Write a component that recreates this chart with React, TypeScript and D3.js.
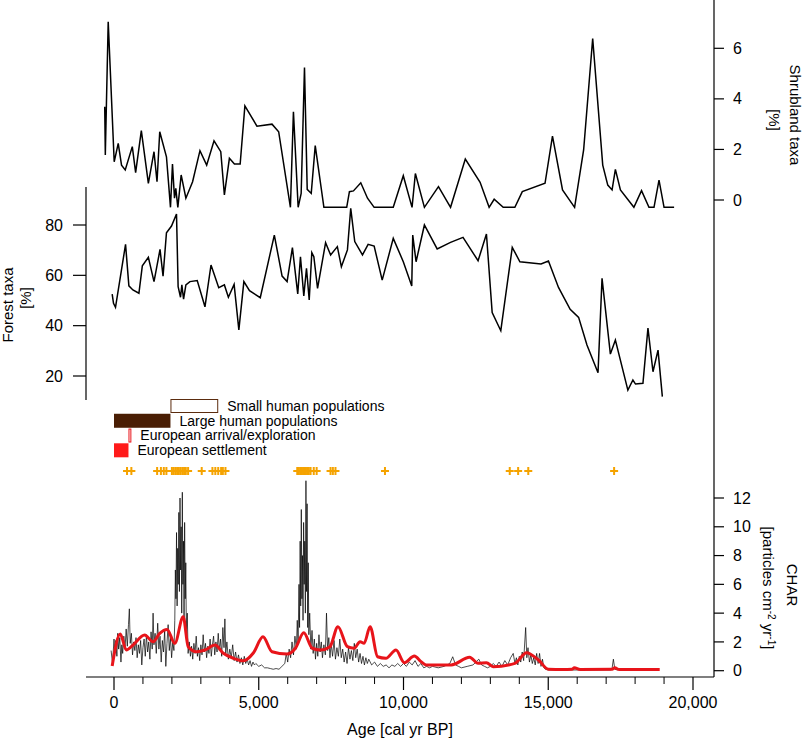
import React from 'react';
import * as d3 from 'd3';

// Shrubland taxa [%]
const shrubAge = [-320, -300, -200, 7, 146, 260, 388, 632, 747, 944, 1187, 1382, 1486, 1580, 1812, 1951, 2020, 2090, 2135, 2205, 2320, 2483, 2715, 2969, 3201, 3455, 3688, 3813, 3986, 4160, 4358, 4521, 4938, 5458, 5688, 6094, 6198, 6361, 6465, 6580, 6674, 6813, 6951, 7250, 8038, 8132, 8271, 8524, 8757, 8986, 9646, 9993, 10295, 10410, 10722, 11208, 11625, 12135, 12646, 12958, 13132, 13444, 13847, 14104, 14889, 15146, 15493, 15910, 16222, 16535, 16882, 17056, 17205, 17319, 17493, 17958, 18222, 18479, 18653, 18826, 19000, 19347];
const shrubVal = [3.69, 1.78, 7.05, 1.51, 2.24, 1.38, 1.19, 2.11, 1.08, 2.74, 0.66, 1.91, 0.72, 2.7, 1.71, -0.29, 1.42, 0.07, 0.46, -0.29, 0.99, 0.07, 0.72, 1.95, 1.38, 2.34, 1.91, 0.2, 1.65, 1.42, 1.42, 3.72, 2.92, 3.0, 2.7, -0.29, 3.49, -0.29, 0.26, 5.24, 0.42, 0.26, 2.15, -0.29, -0.29, 0.33, 0.36, 0.68, 0.07, -0.29, -0.29, 0.96, -0.29, 1.05, -0.29, 0.53, -0.29, 1.62, 0.7, -0.29, 0.03, -0.29, -0.29, 0.33, 0.66, 2.53, 0.4, -0.29, 1.98, 6.39, 1.38, 0.59, 0.4, 1.21, 0.4, -0.29, 0.37, -0.29, -0.29, 0.79, -0.29, -0.29];

// Forest taxa [%]
const forestAge = [-63, -17, 52, 399, 514, 653, 861, 979, 1187, 1382, 1590, 1694, 1812, 1986, 2159, 2215, 2298, 2344, 2403, 2483, 2622, 2875, 3142, 3351, 3618, 3813, 3951, 4149, 4313, 4486, 4681, 5052, 5538, 5806, 5979, 6163, 6347, 6441, 6556, 6649, 6743, 6833, 6903, 7031, 7309, 7483, 7715, 7854, 8063, 8177, 8316, 8583, 8778, 8986, 9264, 9646, 9993, 10285, 10319, 10434, 10722, 11163, 11625, 12056, 12576, 12865, 13063, 13361, 13757, 14021, 14750, 15007, 15354, 15757, 16049, 16337, 16719, 16858, 17146, 17319, 17750, 17924, 18014, 18271, 18444, 18618, 18792, 18941];
const forestVal = [52.5, 48.9, 47.3, 72.3, 55.8, 54.2, 52.9, 63.8, 67.2, 57.5, 70.3, 59.7, 76.9, 79.6, 84.4, 55.5, 51.3, 56.2, 50.5, 56.2, 57.5, 57.9, 47.5, 64.1, 55.1, 56.2, 51.3, 56.4, 38.3, 57.5, 53.9, 51.1, 76.0, 59.7, 57.5, 71.0, 52.6, 67.4, 51.8, 62.8, 50.2, 69.0, 67.4, 54.8, 73.0, 68.1, 71.4, 63.4, 70.1, 86.6, 73.4, 68.1, 72.3, 71.6, 58.1, 74.7, 65.4, 55.8, 76.0, 65.4, 80.0, 70.5, 73.1, 75.1, 65.8, 76.4, 45.2, 38.0, 71.1, 65.4, 64.5, 65.7, 55.2, 46.5, 43.3, 32.3, 21.3, 58.8, 28.7, 34.3, 14.4, 18.4, 16.8, 17.1, 39.0, 21.7, 30.3, 11.8];

// Human history bars
const humanLabels = ['Small human populations', 'Large human populations', 'European arrival/exploration', 'European settlement'];
const humanStart = [1950, 0, 500, 0];
const humanEnd = [3600, 1950, 600, 500];
const humanFilled = [false, true, false, true];
const humanColor = ['#5b2c0e', '#4a1e04', '#e8141a', '#ff1a1a'];

// Radiocarbon / dating points
const dateAges = [450, 600, 1490, 1620, 1720, 1810, 2000, 2060, 2120, 2180, 2240, 2300, 2360, 2420, 2480, 2560, 3030, 3400, 3500, 3600, 3700, 3760, 3850, 6330, 6380, 6430, 6480, 6530, 6580, 6630, 6680, 6730, 6790, 6900, 7000, 7480, 7560, 7650, 9360, 13670, 13960, 14310, 17275];

// CHAR [particles cm-2 yr-1]
const charAge = [-100, -50, 0, 30, 60, 100, 130, 160, 200, 240, 270, 300, 340, 380, 420, 460, 500, 530, 560, 600, 640, 680, 720, 760, 800, 840, 880, 920, 960, 1000, 1040, 1080, 1120, 1160, 1200, 1240, 1280, 1320, 1350, 1380, 1420, 1460, 1510, 1550, 1590, 1630, 1670, 1710, 1750, 1790, 1830, 1870, 1910, 1950, 1990, 2030, 2070, 2100, 2120, 2140, 2160, 2180, 2200, 2220, 2240, 2260, 2280, 2300, 2320, 2340, 2360, 2380, 2400, 2420, 2440, 2460, 2480, 2500, 2530, 2560, 2600, 2640, 2680, 2720, 2760, 2800, 2840, 2880, 2920, 2960, 3000, 3040, 3080, 3120, 3160, 3200, 3240, 3280, 3320, 3360, 3400, 3440, 3480, 3520, 3560, 3600, 3640, 3680, 3720, 3760, 3800, 3830, 3860, 3900, 3950, 4000, 4050, 4100, 4150, 4200, 4250, 4300, 4350, 4400, 4450, 4500, 4550, 4600, 4650, 4700, 4750, 4800, 4850, 4900, 5000, 5100, 5200, 5300, 5400, 5500, 5600, 5700, 5800, 5900, 5950, 6000, 6050, 6100, 6150, 6200, 6250, 6300, 6330, 6360, 6390, 6410, 6430, 6450, 6470, 6490, 6510, 6530, 6550, 6570, 6590, 6610, 6630, 6650, 6670, 6690, 6710, 6730, 6760, 6800, 6840, 6880, 6920, 6960, 7000, 7040, 7080, 7120, 7160, 7200, 7250, 7300, 7340, 7380, 7420, 7460, 7500, 7550, 7600, 7650, 7700, 7750, 7800, 7850, 7900, 7950, 8000, 8050, 8100, 8150, 8200, 8250, 8300, 8350, 8400, 8450, 8500, 8550, 8600, 8650, 8700, 8750, 8800, 8900, 9000, 9100, 9200, 9300, 9400, 9500, 9600, 9700, 9800, 9900, 10000, 10100, 10200, 10300, 10400, 10500, 10600, 10700, 10800, 10900, 11000, 11200, 11400, 11600, 11700, 11800, 11900, 12000, 12200, 12400, 12600, 12700, 12800, 12900, 13000, 13100, 13200, 13300, 13400, 13500, 13600, 13700, 13790, 13850, 13900, 13950, 14000, 14050, 14100, 14150, 14220, 14260, 14300, 14350, 14400, 14450, 14500, 14550, 14600, 14650, 14700, 14750, 14800, 14850, 14900, 15000, 15500, 16000, 16500, 17000, 17150, 17200, 17250, 17300, 17400];
const charVal = [1.4, 0.5, 2.2, 1.3, 2.1, 1.0, 2.6, 1.5, 2.3, 0.6, 1.8, 1.2, 2.4, 1.5, 2.9, 1.7, 3.2, 4.3, 1.9, 2.6, 1.1, 2.0, 1.4, 2.3, 0.9, 1.8, 1.2, 2.1, 0.4, 1.6, 2.2, 1.0, 2.5, 1.3, 2.0, 0.8, 2.7, 1.5, 4.0, 1.8, 2.6, 1.2, 3.3, 1.5, 2.4, 0.6, 2.1, 1.3, 2.8, 0.3, 1.9, 3.2, 1.4, 2.3, 0.9, 2.0, 1.4, 3.5, 7.0, 5.0, 9.6, 4.5, 8.5, 6.0, 11.0, 5.5, 12.0, 7.0, 10.0, 4.0, 12.4, 6.0, 9.0, 3.5, 10.3, 5.0, 7.5, 2.5, 4.0, 1.2, 2.0, 1.0, 1.7, 0.8, 1.9, 1.2, 2.4, 1.0, 1.6, 0.7, 1.8, 1.1, 2.5, 1.3, 1.9, 0.9, 1.7, 1.2, 2.2, 1.0, 1.8, 2.4, 1.1, 2.0, 1.3, 2.6, 1.4, 2.2, 1.0, 3.0, 1.6, 3.6, 1.2, 2.0, 0.8, 1.5, 0.9, 1.8, 0.7, 1.3, 0.6, 1.1, 0.5, 0.9, 0.4, 1.0, 0.5, 0.8, 0.4, 0.7, 0.3, 0.6, 0.4, 0.5, 0.3, 0.4, 0.2, 0.2, 0.15, 0.1, 0.15, 0.1, 0.3, 0.5, 1.2, 0.6, 1.5, 0.9, 2.0, 1.1, 2.4, 1.5, 3.5, 2.0, 6.0, 3.0, 9.0, 4.5, 11.2, 5.0, 8.0, 3.5, 10.3, 6.0, 9.0, 4.0, 13.2, 5.5, 11.6, 3.0, 7.5, 2.5, 4.0, 1.5, 2.8, 1.2, 2.2, 0.8, 1.9, 1.0, 2.5, 1.3, 2.0, 0.9, 1.8, 1.1, 4.0, 1.4, 2.3, 0.9, 1.9, 1.0, 2.1, 0.8, 1.6, 1.0, 2.2, 0.9, 1.5, 0.6, 1.3, 0.5, 1.6, 0.8, 1.4, 0.7, 1.9, 0.9, 1.5, 0.6, 1.2, 0.5, 1.0, 0.4, 0.9, 0.5, 0.8, 0.4, 0.6, 0.3, 0.5, 0.3, 0.4, 0.2, 0.4, 0.3, 0.5, 0.3, 0.5, 0.3, 0.6, 0.4, 0.7, 0.3, 0.5, 0.2, 0.3, 0.2, 0.3, 0.2, 0.3, 0.5, 0.97, 0.4, 0.3, 0.2, 0.3, 0.4, 0.8, 0.4, 0.3, 0.2, 0.3, 0.5, 0.3, 0.6, 0.3, 0.7, 0.4, 0.9, 1.2, 0.5, 0.9, 0.4, 1.0, 0.6, 1.3, 0.7, 3.0, 0.9, 1.6, 0.6, 1.1, 0.5, 0.9, 0.4, 1.2, 0.5, 1.2, 0.3, 0.8, 0.2, 0.1, 0.05, 0.05, 0.05, 0.05, 0.05, 0.05, 0.1, 0.8, 0.1, 0.05];

// Smoothed CHAR (background)
const smoothAge = [-63, 215, 424, 653, 1059, 1348, 1580, 1834, 2100, 2390, 2563, 2854, 3142, 3490, 3778, 4125, 4472, 4819, 5146, 5458, 5979, 6267, 6556, 6847, 7135, 7459, 7736, 8063, 8292, 8500, 8639, 8847, 9104, 9392, 9740, 10028, 10375, 10608, 10781, 11649, 12285, 12576, 12865, 13097, 13847, 14253, 14660, 15007, 15500, 15816, 15900, 16100, 17205, 17300, 17450, 18850];
const smoothVal = [0.33, 2.55, 1.44, 1.78, 2.48, 2.01, 2.6, 2.87, 1.9, 3.75, 1.67, 1.32, 1.44, 1.78, 1.21, 0.86, 0.69, 1.25, 2.36, 1.32, 1.16, 1.56, 2.64, 1.56, 1.44, 1.67, 3.06, 1.67, 1.56, 2.01, 1.9, 3.06, 0.97, 0.86, 1.44, 0.56, 1.02, 0.63, 0.4, 0.4, 0.93, 0.51, 0.56, 0.28, 0.51, 1.25, 0.74, 0.1, 0.08, 0.1, 0.2, 0.08, 0.1, 0.2, 0.08, 0.08];

const xTicksMajor = [0, 5000, 10000, 15000, 20000];
const shrubTicks = [0, 2, 4, 6];
const forestTicks = [20, 40, 60, 80];
const charTicks = [0, 2, 4, 6, 8, 10, 12];

const FONT = '"Liberation Sans", Arial, Helvetica, sans-serif';

export default function App() {
  const x = d3.scaleLinear().domain([0, 20000]).range([114, 693]);
  const yS = d3.scaleLinear().domain([0, 6]).range([200, 48.3]);
  const yF = d3.scaleLinear().domain([20, 80]).range([376, 225]);
  const yC = d3.scaleLinear().domain([0, 12]).range([670.7, 498]);
  const rowY = d3.scaleLinear().domain([0, 3]).range([399, 443.3]);

  const shrubLine = d3.line<number>().x((_, i) => x(shrubAge[i])).y((d) => yS(d));
  const forestLine = d3.line<number>().x((_, i) => x(forestAge[i])).y((d) => yF(d));
  const charLine = d3.line<number>().x((_, i) => x(charAge[i])).y((d) => yC(d));
  const smoothLine = d3.line<number>().x((_, i) => x(smoothAge[i])).y((d) => yC(d)).curve(d3.curveMonotoneX);

  const minorTicks = d3.range(0, 20001, 1000).filter((t) => t % 5000 !== 0);
  const axisRight = 714;
  const axisBottom = 677;
  const fmt = d3.format(',');
  const crossY = 471;
  const cs = 4;

  return (
    <svg width={805} height={740} style={{ position: 'absolute', left: 0, top: 0, background: '#fff' }} fontFamily={FONT}>
      <rect x={0} y={0} width={805} height={740} fill="#fff" />
      {/* right vertical axis line */}
      <line x1={axisRight} x2={axisRight} y1={0} y2={axisBottom} stroke="#000" strokeWidth={1.2} />
      {/* shrubland axis */}
      {shrubTicks.map((t) => (
        <g key={'s' + t}>
          <line x1={axisRight} x2={axisRight + 10} y1={yS(t)} y2={yS(t)} stroke="#000" strokeWidth={1.2} />
          <text x={733} y={yS(t)} dy="0.35em" fontSize={16}>{t}</text>
        </g>
      ))}
      <g transform={`translate(795,115) rotate(90)`}>
        <text textAnchor="middle" dy="0.35em" fontSize={15}>Shrubland taxa</text>
      </g>
      <g transform={`translate(774,120) rotate(90)`}>
        <text textAnchor="middle" dy="0.35em" fontSize={15}>[%]</text>
      </g>
      <path d={shrubLine(shrubVal) || ''} fill="none" stroke="#000" strokeWidth={1.5} strokeLinejoin="miter" />

      {/* forest axis */}
      <line x1={86} x2={86} y1={187} y2={400} stroke="#000" strokeWidth={1.2} />
      {forestTicks.map((t) => (
        <g key={'f' + t}>
          <line x1={73} x2={86} y1={yF(t)} y2={yF(t)} stroke="#000" strokeWidth={1.2} />
          <text x={63} y={yF(t)} dy="0.35em" fontSize={16} textAnchor="end">{t}</text>
        </g>
      ))}
      <g transform={`translate(8,305) rotate(-90)`}>
        <text textAnchor="middle" dy="0.35em" fontSize={15}>Forest taxa</text>
      </g>
      <g transform={`translate(26,298) rotate(-90)`}>
        <text textAnchor="middle" dy="0.35em" fontSize={15}>[%]</text>
      </g>
      <path d={forestLine(forestVal) || ''} fill="none" stroke="#000" strokeWidth={1.5} />

      {/* human history bars */}
      {humanLabels.map((lab, i) => {
        const x0 = x(humanStart[i]);
        const x1 = x(humanEnd[i]);
        const y0 = rowY(i);
        const h = 14;
        return (
          <g key={lab}>
            <rect
              x={humanFilled[i] ? x0 : x0 + 0.5}
              y={humanFilled[i] ? y0 : y0 + 0.5}
              width={humanFilled[i] ? x1 - x0 : Math.max(x1 - x0 - 1, 1)}
              height={humanFilled[i] ? h : h - 1}
              fill={humanFilled[i] ? humanColor[i] : '#fff'}
              stroke={humanFilled[i] ? 'none' : humanColor[i]}
              strokeWidth={1}
            />
            <text x={x1 + 9} y={y0 + h / 2} dy="0.35em" fontSize={14}>{lab}</text>
          </g>
        );
      })}

      {/* dating crosses */}
      {dateAges.map((a, i) => (
        <path
          key={'c' + i}
          d={`M${x(a) - cs},${crossY}H${x(a) + cs}M${x(a)},${crossY - cs}V${crossY + cs}`}
          stroke="#f5a300"
          strokeWidth={2}
          fill="none"
        />
      ))}

      {/* CHAR axis */}
      {charTicks.map((t) => (
        <g key={'c' + t}>
          <line x1={axisRight} x2={axisRight + 10} y1={yC(t)} y2={yC(t)} stroke="#000" strokeWidth={1.2} />
          <text x={733} y={yC(t)} dy="0.35em" fontSize={16}>{t}</text>
        </g>
      ))}
      <g transform={`translate(792,585) rotate(90)`}>
        <text textAnchor="middle" dy="0.35em" fontSize={15}>CHAR</text>
      </g>
      <g transform={`translate(768,588) rotate(90)`}>
        <text textAnchor="middle" dy="0.35em" fontSize={15}>
          [particles cm<tspan dy="-5" fontSize={10}>-2</tspan>
          <tspan dy="5"> yr</tspan>
          <tspan dy="-5" fontSize={10}>-1</tspan>
          <tspan dy="5">]</tspan>
        </text>
      </g>
      <path d={charLine(charVal) || ''} fill="none" stroke="#000" strokeWidth={0.7} />
      <path d={smoothLine(smoothVal) || ''} fill="none" stroke="#e8141a" strokeWidth={3} />

      {/* bottom axis */}
      <line x1={86} x2={axisRight} y1={axisBottom} y2={axisBottom} stroke="#000" strokeWidth={1.2} />
      {xTicksMajor.map((t) => (
        <g key={'x' + t}>
          <line x1={x(t)} x2={x(t)} y1={axisBottom} y2={axisBottom + 13} stroke="#000" strokeWidth={1.2} />
          <text x={x(t)} y={708} textAnchor="middle" fontSize={16}>{fmt(t)}</text>
        </g>
      ))}
      {minorTicks.map((t) => (
        <line key={'m' + t} x1={x(t)} x2={x(t)} y1={axisBottom} y2={axisBottom + 7} stroke="#000" strokeWidth={1} />
      ))}
      <text x={400} y={735} textAnchor="middle" fontSize={16}>Age [cal yr BP]</text>
    </svg>
  );
}
